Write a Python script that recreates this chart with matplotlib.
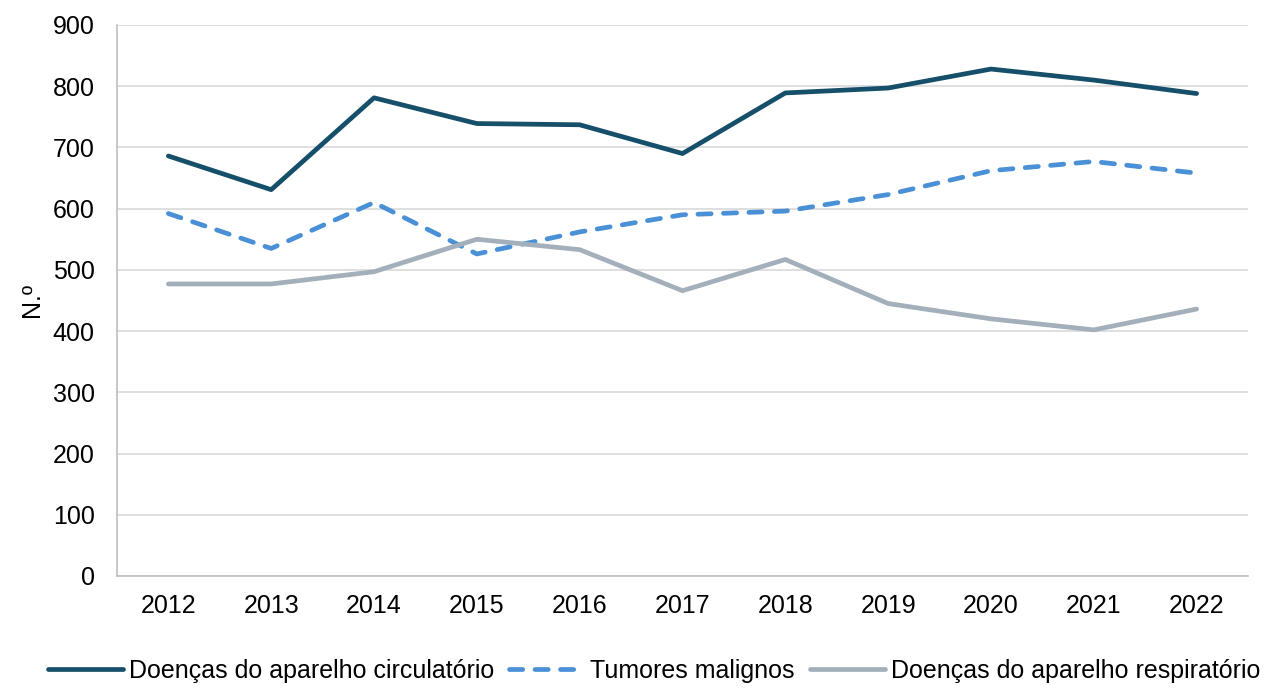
import matplotlib.pyplot as plt

plt.rcParams['font.family'] = ['Liberation Sans', 'DejaVu Sans']

anos = ['2012', '2013', '2014', '2015', '2016', '2017', '2018', '2019', '2020', '2021', '2022']
circulatorio = [686, 631, 781, 739, 737, 690, 789, 797, 828, 810, 788]
tumores = [592, 535, 610, 526, 562, 590, 596, 623, 662, 677, 658]
respiratorio = [477, 477, 497, 550, 533, 466, 517, 445, 420, 402, 436]

fs = 18
fig = plt.figure(figsize=(12.7, 6.88), dpi=100)
ax = fig.add_axes([0.0921, 0.1628, 0.8906, 0.8009])

x = range(len(anos))
ax.plot(x, circulatorio, color='#154F6A', lw=3.4, label='Doenças do aparelho circulatório',
        solid_capstyle='round')
ax.plot(x, tumores, color='#4A90D6', lw=3.4, ls=(0, (2.8, 2.6)), label='Tumores malignos',
        dash_capstyle='round')
ax.plot(x, respiratorio, color='#A3B0BC', lw=3.4, label='Doenças do aparelho respiratório',
        solid_capstyle='round')

ax.set_xlim(-0.5, len(anos) - 0.5)
ax.set_ylim(0, 900)
ax.set_yticks(range(0, 901, 100))
ax.set_xticks(list(x))
ax.set_xticklabels(anos)
ax.tick_params(labelsize=fs, length=0, colors='black')
ax.tick_params(axis='x', pad=13)
ax.tick_params(axis='y', pad=16)
ax.grid(axis='y', color='#D9D9D9', lw=1.2)
ax.set_axisbelow(True)
for s in ['top', 'right']:
    ax.spines[s].set_visible(False)
for s in ['left', 'bottom']:
    ax.spines[s].set_color('#BFBFBF')
    ax.spines[s].set_linewidth(1.2)
ax.set_ylabel('N.º', fontsize=fs, labelpad=6)

fig.legend(loc='center', bbox_to_anchor=(0.515, 0.025), ncol=3, frameon=False,
           fontsize=fs, handlelength=3.0, handletextpad=0.25, columnspacing=0.6,
           borderpad=0)

fig.savefig('out.png', dpi=100)
